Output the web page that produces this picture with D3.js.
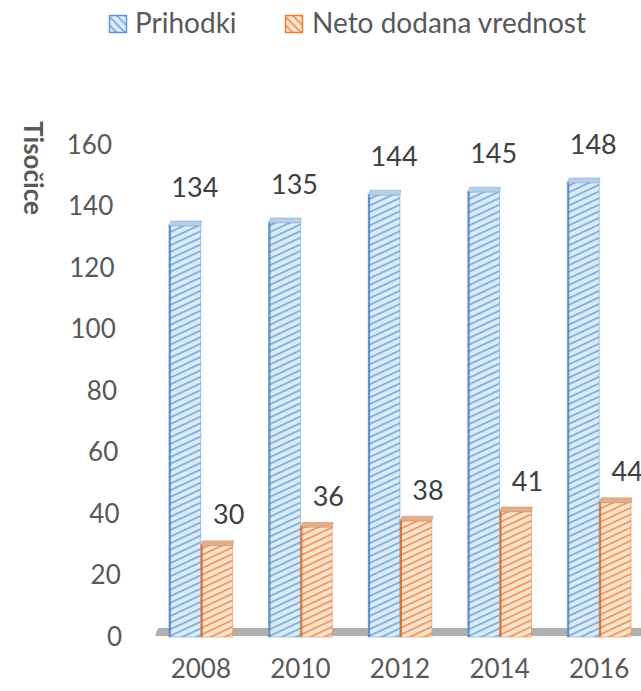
<!DOCTYPE html>
<html>
<head>
<meta charset="utf-8">
<script src="https://cdnjs.cloudflare.com/ajax/libs/d3/7.8.5/d3.min.js"></script>
<style>
body { margin: 0; background: #fff; }
text { font-family: Lato, "Open Sans", sans-serif; fill: #595959; }
</style>
</head>
<body>
<div id="chart"></div>
<script>
var years = ["2008", "2010", "2012", "2014", "2016"];
var seriesNames = ["Prihodki", "Neto dodana vrednost"];
var prihodki = [134, 135, 144, 145, 148];
var netoDodana = [30, 36, 38, 41, 44];
var yTicks = [0, 20, 40, 60, 80, 100, 120, 140, 160];
var axisTitle = "Tisočice";

var W = 641, H = 691;
var colors = [
	{ line: "#5b9bd5", back: "#ddebf7", edge: "#4a7fb5", top: "#b7cfe9" },
	{ line: "#ed7d31", back: "#fbe3d2", edge: "#c9652a", top: "#e0b08e" }
];

var svg = d3.select("#chart").append("svg")
	.attr("width", W)
	.attr("height", H);

var defs = svg.append("defs");
function stripes(id, c, angle) {
	var p = defs.append("pattern")
		.attr("id", id)
		.attr("patternUnits", "userSpaceOnUse")
		.attr("width", 10)
		.attr("height", 6)
		.attr("patternTransform", "rotate(" + angle + ")");
	p.append("rect").attr("width", 10).attr("height", 6).attr("fill", c.back);
	p.append("rect").attr("y", 0).attr("width", 10).attr("height", 1.8).attr("fill", c.line).attr("opacity", 0.75);
}
stripes("bar0", colors[0], -25);
stripes("bar1", colors[1], -25);
stripes("leg0", colors[0], 45);
stripes("leg1", colors[1], 45);

var y = d3.scaleLinear().domain([0, 160]).range([637, 145]);
var x = d3.scaleBand().domain(years).range([151, 649]).paddingInner(0.36).paddingOuter(0.18);
var xs = d3.scaleBand().domain(seriesNames).range([0, x.bandwidth()]);

// floor
var y0 = y(0);
svg.append("path")
	.attr("d", "M" + 158 + "," + (y0 - 9) + "L" + W + "," + (y0 - 9) + "L" + W + "," + (y0 - 1) + "L" + 155 + "," + (y0 - 1) + "Z")
	.attr("fill", "#b0b0b0");

// y axis
var yAxis = svg.append("g")
	.attr("transform", "translate(122,0)")
	.call(d3.axisLeft(y).tickValues(yTicks).tickSize(0).tickPadding(0));
yAxis.select(".domain").remove();
yAxis.selectAll("text")
	.attr("x", function(d) { return -d / 16; })
	.style("font-size", "26px")
	.style("fill", "#595959");

// x axis
var xAxis = svg.append("g")
	.attr("transform", "translate(0,660)")
	.call(d3.axisBottom(x).tickSize(0).tickPadding(0));
xAxis.select(".domain").remove();
xAxis.selectAll("text")
	.style("font-size", "26px")
	.style("fill", "#595959");

// axis title
svg.append("text")
	.attr("transform", "translate(24,168) rotate(90)")
	.attr("text-anchor", "middle")
	.style("font-size", "26px")
	.style("font-weight", "bold")
	.text(axisTitle);

var table = years.map(function(yr, i) {
	return { year: yr, values: [prihodki[i], netoDodana[i]] };
});

var groups = svg.selectAll(".cat")
	.data(table)
	.enter()
	.append("g")
	.attr("class", "cat")
	.attr("transform", function(d) { return "translate(" + x(d.year) + ",0)"; });

var bars = groups.selectAll(".bar")
	.data(function(d) { return d.values.map(function(v, k) { return { s: k, v: v }; }); })
	.enter()
	.append("g")
	.attr("class", "bar");

var topH = 5, slant = 2;
bars.append("rect")
	.attr("x", function(d) { return xs(seriesNames[d.s]); })
	.attr("y", function(d) { return y(d.v); })
	.attr("width", xs.bandwidth())
	.attr("height", function(d) { return y0 - y(d.v); })
	.attr("fill", function(d) { return "url(#bar" + d.s + ")"; })
	.attr("stroke", function(d) { return colors[d.s].line; })
	.attr("stroke-opacity", 0.5)
	.attr("stroke-width", 1);
bars.append("line")
	.attr("x1", function(d) { return xs(seriesNames[d.s]) + 1; })
	.attr("x2", function(d) { return xs(seriesNames[d.s]) + 1; })
	.attr("y1", function(d) { return y(d.v); })
	.attr("y2", y0)
	.attr("stroke", function(d) { return colors[d.s].edge; })
	.attr("stroke-opacity", 0.8)
	.attr("stroke-width", 2);
bars.append("path")
	.attr("d", function(d) {
		var a = xs(seriesNames[d.s]), b = a + xs.bandwidth(), t = y(d.v);
		return "M" + a + "," + (t + 1) + "L" + (a + slant) + "," + (t - topH + 1) + "L" + (b + 1) + "," + (t - topH + 1) + "L" + b + "," + (t + 1) + "Z";
	})
	.attr("fill", function(d) { return colors[d.s].top; })
	.attr("stroke", function(d) { return colors[d.s].edge; })
	.attr("stroke-opacity", 0.4)
	.attr("stroke-width", 0.8);

// data labels
var labelDx = [10, 12], labelDy = [38, 30];
bars.append("text")
	.attr("x", function(d) { return xs(seriesNames[d.s]) + xs.bandwidth() / 2 + labelDx[d.s]; })
	.attr("y", function(d) { return y(d.v) - labelDy[d.s]; })
	.attr("dy", "0.36em")
	.attr("text-anchor", "middle")
	.style("font-size", "27px")
	.style("fill", "#404040")
	.text(function(d) { return d.v; });

// legend
var legendX = [109, 285];
var legend = svg.selectAll(".legend")
	.data(seriesNames)
	.enter()
	.append("g")
	.attr("class", "legend")
	.attr("transform", function(d, i) { return "translate(" + legendX[i] + ",15)"; });
legend.append("rect")
	.attr("x", 0.5).attr("y", 0.5)
	.attr("width", 17).attr("height", 17)
	.attr("fill", function(d, i) { return "url(#leg" + i + ")"; })
	.attr("stroke", function(d, i) { return colors[i].line; })
	.attr("stroke-width", 1.5);
legend.append("text")
	.attr("x", function(d, i) { return i === 0 ? 26 : 27; })
	.attr("y", 18)
	.style("font-size", "28px")
	.text(function(d) { return d; });
</script>
</body>
</html>
